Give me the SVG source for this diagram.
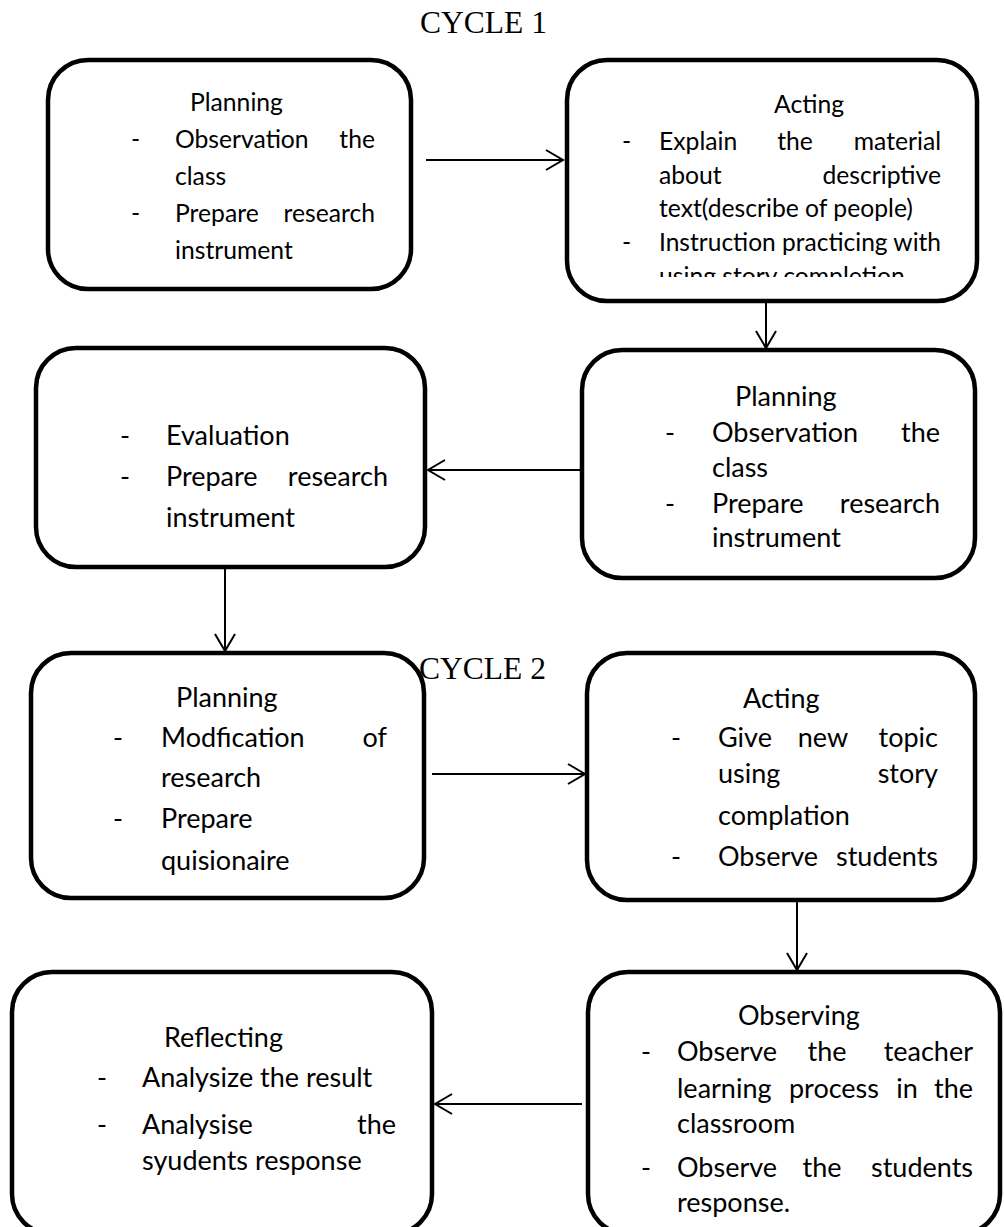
<svg xmlns="http://www.w3.org/2000/svg" width="1004" height="1227" viewBox="0 0 1004 1227">
<style>
.box{fill:#fff;stroke:#000;stroke-width:4.5}
.t{font-family:Lato,"Noto Sans",sans-serif;font-size:27px;fill:#000}
.s{font-size:24.7px}
.e{text-anchor:end}
.m{text-anchor:middle}
.title{font-family:"Liberation Serif","Times New Roman",serif;font-size:31.5px;fill:#000}
.c line{stroke:#000;stroke-width:2;fill:none}
</style>
<defs>
<marker id="ah" markerUnits="userSpaceOnUse" markerWidth="40" markerHeight="40" viewBox="-20 -20 40 40" refX="0" refY="0" orient="auto" overflow="visible">
<path d="M-17,-10 L0,0 L-17,10" fill="none" stroke="#000" stroke-width="2"/>
</marker>
<clipPath id="clip2"><rect x="567" y="60" width="410" height="217"/></clipPath>
</defs>
<rect width="1004" height="1227" fill="#fff"/>
<text class="title" x="420" y="33">CYCLE 1</text>

<g class="c" id="connectors">
<line x1="426" y1="160" x2="563" y2="160" marker-end="url(#ah)"/>
<line x1="766" y1="302" x2="766" y2="348" marker-end="url(#ah)"/>
<line x1="580" y1="470" x2="428" y2="470" marker-end="url(#ah)"/>
<line x1="225" y1="569" x2="225" y2="651" marker-end="url(#ah)"/>
<line x1="432" y1="774" x2="585" y2="774" marker-end="url(#ah)"/>
<line x1="797" y1="902" x2="797" y2="970" marker-end="url(#ah)"/>
<line x1="582" y1="1104" x2="435" y2="1104" marker-end="url(#ah)"/>
</g>

<g id="n1">
<rect class="box" x="48" y="60" width="363" height="229" rx="40"/>
<text class="t s" x="190" y="111">Planning</text>
<text class="t s" x="131" y="148">-</text>
<text class="t s" x="175" y="148">Observation</text>
<text class="t s e" x="375" y="148">the</text>
<text class="t s" x="175" y="185">class</text>
<text class="t s" x="131" y="222">-</text>
<text class="t s" x="175" y="222">Prepare</text>
<text class="t s e" x="375" y="222">research</text>
<text class="t s" x="175" y="259">instrument</text>
</g>

<g id="n2">
<rect class="box" x="567" y="60" width="410" height="241" rx="40"/>
<g clip-path="url(#clip2)">
<text class="t s" x="774" y="113">Acting</text>
<text class="t s" x="622" y="150">-</text>
<text class="t s" x="659" y="150">Explain</text>
<text class="t s m" x="795" y="150">the</text>
<text class="t s e" x="941" y="150">material</text>
<text class="t s" x="659" y="184">about</text>
<text class="t s e" x="941" y="184">descriptive</text>
<text class="t s" x="659" y="217">text(describe of people)</text>
<text class="t s" x="622" y="251">-</text>
<text class="t s" x="659" y="251" textLength="282" lengthAdjust="spacingAndGlyphs">Instruction practicing with</text>
<text class="t s" x="659" y="285">using story completion</text>
</g>
</g>

<g id="n3">
<rect class="box" x="582" y="350" width="393" height="228" rx="40"/>
<text class="t" x="735" y="406">Planning</text>
<text class="t" x="665" y="442">-</text>
<text class="t" x="712" y="442">Observation</text>
<text class="t e" x="940" y="442">the</text>
<text class="t" x="712" y="477">class</text>
<text class="t" x="665" y="513">-</text>
<text class="t" x="712" y="513">Prepare</text>
<text class="t e" x="940" y="513">research</text>
<text class="t" x="712" y="547">instrument</text>
</g>

<g id="n4">
<rect class="box" x="36" y="348" width="389" height="219" rx="40"/>
<text class="t" x="120" y="445">-</text>
<text class="t" x="166" y="445">Evaluation</text>
<text class="t" x="120" y="486">-</text>
<text class="t" x="166" y="486">Prepare</text>
<text class="t e" x="388" y="486">research</text>
<text class="t" x="166" y="527">instrument</text>
</g>

<text class="title" x="419" y="679">CYCLE 2</text>

<g id="n5">
<rect class="box" x="31" y="653" width="393" height="245" rx="40"/>
<text class="t" x="176" y="707">Planning</text>
<text class="t" x="113" y="747">-</text>
<text class="t" x="161" y="747">Modfication</text>
<text class="t e" x="387" y="747">of</text>
<text class="t" x="161" y="787">research</text>
<text class="t" x="113" y="828">-</text>
<text class="t" x="161" y="828">Prepare</text>
<text class="t" x="161" y="870">quisionaire</text>
</g>

<g id="n6">
<rect class="box" x="587" y="653" width="388" height="247" rx="40"/>
<text class="t" x="743" y="708">Acting</text>
<text class="t" x="671" y="747">-</text>
<text class="t" x="718" y="747">Give</text>
<text class="t m" x="823" y="747">new</text>
<text class="t e" x="938" y="747">topic</text>
<text class="t" x="718" y="783">using</text>
<text class="t e" x="938" y="783">story</text>
<text class="t" x="718" y="825">complation</text>
<text class="t" x="671" y="866">-</text>
<text class="t" x="718" y="866">Observe</text>
<text class="t e" x="938" y="866">students</text>
</g>

<g id="n7">
<rect class="box" x="12" y="972" width="420" height="262" rx="40"/>
<text class="t" x="164" y="1047">Reflecting</text>
<text class="t" x="97" y="1087">-</text>
<text class="t" x="142" y="1087">Analysize the result</text>
<text class="t" x="97" y="1134">-</text>
<text class="t" x="142" y="1134">Analysise</text>
<text class="t e" x="396" y="1134">the</text>
<text class="t" x="142" y="1170">syudents response</text>
</g>

<g id="n8">
<rect class="box" x="588" y="972" width="412" height="262" rx="40"/>
<text class="t" x="738" y="1025">Observing</text>
<text class="t" x="641" y="1061">-</text>
<text class="t" x="677" y="1061">Observe</text>
<text class="t m" x="827" y="1061">the</text>
<text class="t e" x="973" y="1061">teacher</text>
<text class="t" x="677" y="1098">learning</text>
<text class="t m" x="834" y="1098">process</text>
<text class="t m" x="907" y="1098">in</text>
<text class="t e" x="973" y="1098">the</text>
<text class="t" x="677" y="1133">classroom</text>
<text class="t" x="641" y="1177">-</text>
<text class="t" x="677" y="1177">Observe</text>
<text class="t m" x="822" y="1177">the</text>
<text class="t e" x="973" y="1177">students</text>
<text class="t" x="677" y="1212">response.</text>
</g>
</svg>
